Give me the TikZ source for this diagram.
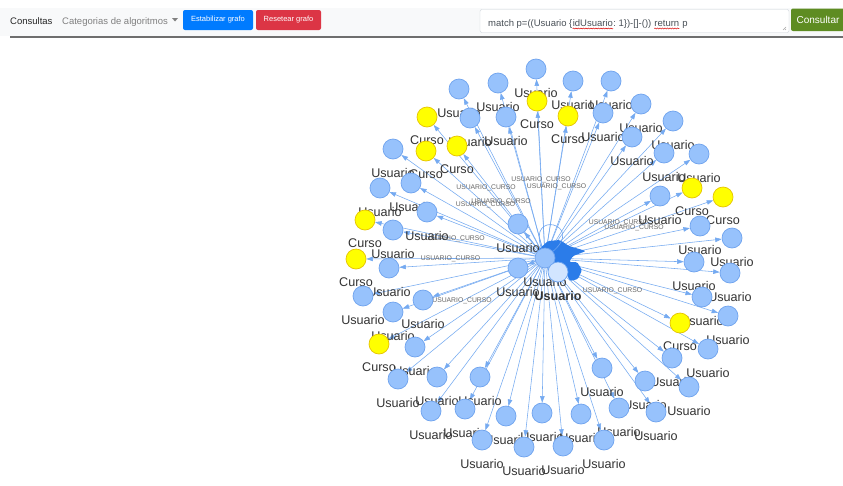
\documentclass[tikz,border=0pt]{standalone}
\usepackage{fontspec}
\setmainfont{Liberation Sans}
\usetikzlibrary{arrows.meta,calc,decorations.pathmorphing}
\definecolor{nodefill}{HTML}{97C2FC}
\definecolor{nodeline}{HTML}{6FA3EE}
\definecolor{edgeblue}{HTML}{2B7CE9}
\definecolor{curfill}{HTML}{FFFF00}
\definecolor{curline}{HTML}{E6C400}
\definecolor{hubfill}{HTML}{D2E5FF}
\definecolor{lblgray}{HTML}{343434}
\definecolor{barbg}{HTML}{F8F9FA}
\definecolor{barline}{HTML}{6E6E6E}
\definecolor{btnblue}{HTML}{007BFF}
\definecolor{btnred}{HTML}{DC3545}
\definecolor{btngreen}{HTML}{5E8C22}
\definecolor{qtext}{HTML}{495057}
\definecolor{arealine}{HTML}{CED4DA}
\pgfdeclarelayer{canvas}
\pgfdeclarelayer{edges}
\pgfsetlayers{canvas,edges,main}
\begin{document}
\begin{tikzpicture}[x=1pt,y=-1pt,
  lbl/.style={font=\fontsize{12.6}{14}\selectfont, text=lblgray, inner sep=0pt, label distance=8.5pt},
  usr/.style={circle, fill=nodefill, draw=nodeline, line width=0.7pt, minimum size=20pt, inner sep=0pt,
    label={[lbl]below:Usuario}},
  cur/.style={circle, fill=curfill, draw=curline, line width=0.7pt, minimum size=20pt, inner sep=0pt,
    label={[lbl]below:Curso}},
  edge/.style={draw=edgeblue!65, line width=0.55pt, -{Triangle[length=6.5pt,width=4.5pt]}},
  elbl/.style={font=\fontsize{6.8}{8}\selectfont, text=black!60, inner sep=0pt},
  bartext/.style={font=\fontsize{9.5}{11}\selectfont, inner sep=0pt, anchor=base west},
  btn/.style={rounded corners=2pt, text=white, font=\fontsize{7.5}{9}\selectfont, minimum height=20pt, inner sep=0pt},
  qtxt/.style={font=\fontsize{9.5}{11}\selectfont, text=qtext, inner sep=0pt, anchor=base west},
  squig/.style={draw=red!85!black, line width=0.5pt, decorate, decoration={snake, amplitude=0.5pt, segment length=2.5pt}}
]
\useasboundingbox (0,0) rectangle (843,485);
\begin{pgfonlayer}{canvas}
  \fill[white] (0,0) rectangle (843,485);
\end{pgfonlayer}

% ---------- menu bar ----------
\fill[barbg] (0,8) rectangle (843,36);
\draw[barline, line width=2pt] (10,37) -- (843,37);
\node[bartext, text=black!85] (mcons) at (10,24) {Consultas};
\node[bartext, text=black!50] (mcat) at (62,24) {Categorias de algoritmos};
\fill[black!50] (172,18) -- (178,18) -- (175,21.5) -- cycle;
\node[btn, fill=btnblue, minimum width=70pt] (bstab) at (218,20) {Estabilizar grafo};
\node[btn, fill=btnred, minimum width=65pt] (breset) at (288.5,20) {Resetear grafo};
\node[draw=arealine, fill=white, rounded corners=2pt, minimum width=309pt, minimum height=23pt, inner sep=0pt] (qarea) at (634.5,21) {};
\node[qtxt] (q1) at (488,26.5) {match p=((Usuario \{};
\node[qtxt] (q2) at (q1.base east) {idUsuario};
\node[qtxt] (q3) at (q2.base east) {:\ 1\})-[]-())};
\node[qtxt] (q4) at ($(q3.base east)+(2.7,0)$) {return};
\node[qtxt] (q5) at ($(q4.base east)+(2.7,0)$) {p};
\draw[squig] ($(q2.base west)+(0,2)$) -- ($(q2.base east)+(0,2)$);
\draw[squig] ($(q4.base west)+(0,2)$) -- ($(q4.base east)+(0,2)$);
\draw[black!35, line width=0.4pt] (783,30) -- (786,27) (785,30) -- (786,29);
\node[btn, fill=btngreen, minimum width=54pt, minimum height=22.5pt, font=\fontsize{10}{12}\selectfont, rounded corners=2pt] (bquery) at (818,19.75) {Consultar};

% ---------- graph nodes ----------
\node[usr] (n1) at (536,69) {};
\node[usr] (n2) at (498,83) {};
\node[usr] (n3) at (459,89) {};
\node[usr] (n48) at (573,81) {};
\node[usr] (n49) at (611,81) {};
\node[cur] (y1) at (537,101) {};
\node[usr] (n4) at (470,118) {};
\node[usr] (n5) at (506,117) {};
\node[cur] (y2) at (427,117) {};
\node[usr] (n47) at (603,113) {};
\node[cur] (y11) at (568,116) {};
\node[usr] (n46) at (641,104) {};
\node[usr] (n44) at (673,121) {};
\node[usr] (n45) at (632,137) {};
\node[usr] (n6) at (393,149) {};
\node[cur] (y3) at (426,151) {};
\node[cur] (y4) at (457,146) {};
\node[usr] (n43) at (664,153) {};
\node[usr] (n42) at (699,154) {};
\node[usr] (n7) at (411,183) {};
\node[usr] (n8) at (380,188) {};
\node[usr] (n41) at (660,196) {};
\node[cur] (y9) at (692,188) {};
\node[cur] (y10) at (723,197) {};
\node[usr] (n9) at (427,212) {};
\node[cur] (y5) at (365,220) {};
\node[usr] (n10) at (393,230) {};
\node[usr] (n39) at (700,226) {};
\node[usr] (n40) at (732,238) {};
\node[cur] (y6) at (356,259) {};
\node[usr] (n11) at (389,268) {};
\node[usr] (n37) at (694,262) {};
\node[usr] (n38) at (730,273) {};
\node[usr] (n12) at (363,296) {};
\node[usr] (n13) at (423,300) {};
\node[usr] (n35) at (702,297) {};
\node[usr] (n14) at (393,312) {};
\node[usr] (n36) at (728,316) {};
\node[cur] (y8) at (680,323) {};
\node[cur] (y7) at (379,344) {};
\node[usr] (n15) at (415,347) {};
\node[usr] (n34) at (708,349) {};
\node[usr] (n32) at (672,358) {};
\node[usr] (n28) at (602,368) {};
\node[usr] (n16) at (398,379) {};
\node[usr] (n17) at (437,377) {};
\node[usr] (n18) at (480,377) {};
\node[usr] (n30) at (645,381) {};
\node[usr] (n33) at (689,387) {};
\node[usr] (n29) at (619,408) {};
\node[usr] (n31) at (656,412) {};
\node[usr] (n19) at (431,411) {};
\node[usr] (n20) at (465,409) {};
\node[usr] (n21) at (506,416) {};
\node[usr] (n22) at (542,413) {};
\node[usr] (n26) at (581,414) {};
\node[usr] (n23) at (482,440) {};
\node[usr] (n24) at (524,447) {};
\node[usr] (n25) at (563,446) {};
\node[usr] (n27) at (604,440) {};
% central cluster
\node[usr] (n50) at (518,224) {};
\node[usr] (h) at (545,258) {};
\node[usr] (n51) at (518,268) {};
\node[circle, fill=hubfill, draw=edgeblue!70, line width=0.7pt, minimum size=20pt, inner sep=0pt,
  label={[lbl, font=\fontsize{12.6}{14}\selectfont\bfseries]below:Usuario}] (u0) at (558,272) {};

% ---------- relationships ----------
\begin{pgfonlayer}{edges}
  \foreach \i in {1,...,51} \draw[edge] (h) -- (n\i);
  \draw[edge] (h) -- (u0);
  \foreach \i in {1,...,11} \draw[edge] (h) -- node[elbl] {USUARIO\_CURSO} (y\i);
  % overlapping arrow heads and self loop at the centre
  \fill[edgeblue, rounded corners=1.5pt] (538,250) -- (548,241) -- (560,240) -- (569,246) -- (586,251)
    -- (573,256) -- (569,262) -- (577,262) -- (582,270) -- (578,279) -- (570,281) -- (566,273)
    -- (552,267) -- (542,262) -- cycle;
  \draw[edgeblue!70, line width=0.6pt] (h) to[out=110, in=40, looseness=9] (h);
\end{pgfonlayer}
\end{tikzpicture}
\end{document}
